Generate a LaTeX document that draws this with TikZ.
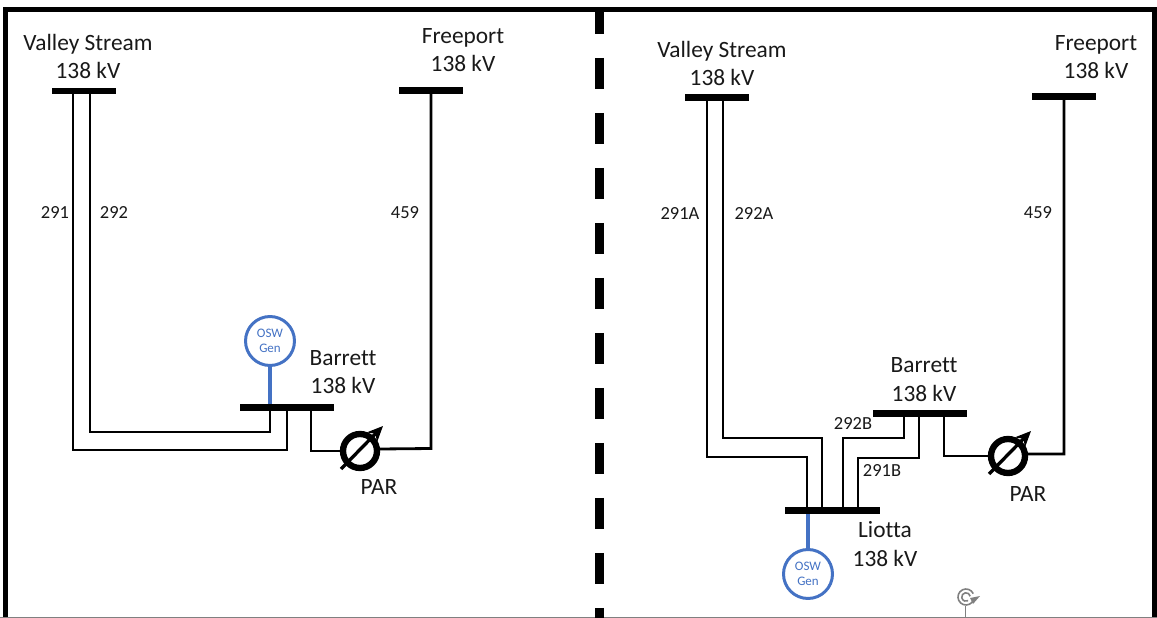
\documentclass[tikz,border=0pt]{standalone}
\usepackage{fontspec}
\setmainfont[Ligatures=NoCommon]{Carlito}
\usetikzlibrary{arrows.meta}
\definecolor{oswblue}{HTML}{4472C4}
\definecolor{handlegray}{HTML}{808080}
\tikzset{
  busbar/.style={fill=black,minimum height=0.13cm,inner sep=0pt,outer sep=0pt},
  wire/.style={line width=1.6pt,draw=black},
  bluewire/.style={line width=2pt,draw=oswblue},
  gen/.style={circle,draw=oswblue,line width=1.7pt,fill=white,minimum size=0.98cm,inner sep=0pt,align=center,text=oswblue,font=\fontsize{7.4}{8.6}\selectfont},
  par/.style={circle,draw=black,line width=3.6pt,fill=white,minimum size=0.68cm,inner sep=0pt},
  pararrow/.style={-{Stealth[length=9pt,width=8pt]},line width=1.9pt,draw=black},
  lbl/.style={align=center,inner sep=0pt,text=black!90,font=\fontsize{13.3}{16.4}\selectfont},
  num/.style={inner sep=0pt,text=black!90,font=\fontsize{10.5}{12}\selectfont},
}
\begin{document}
\begin{tikzpicture}[x=0.02cm,y=-0.02cm]
  \useasboundingbox (0,0) rectangle (1157,618);
  \fill[white] (0,0) rectangle (1157,618);
  % frame and divider
  \draw[black,line width=2.85pt] (5.8,618) -- (5.8,9.2) -- (1154.5,9.2) -- (1154.5,618);
  \draw[handlegray,line width=0.6pt] (0,617.5) -- (1157,617.5);
  \draw[black,line width=4.8pt] (599.7,11) -- (599.7,34);
  \draw[black,line width=4.8pt,dash pattern=on 0.62cm off 0.48cm] (599.7,58) -- (599.7,618);
  % left panel: before
  \node[busbar,minimum width=1.28cm] (vsa) at (84,91) {};
  \node[busbar,minimum width=1.28cm] (fpa) at (431,90.5) {};
  \node[busbar,minimum width=1.9cm] (bara) at (287,407.5) {};
  \node[gen] (gena) at (270,341) {OSW\\Gen};
  \node[par] (para) at (360,451) {};
  \draw[wire] ([xshift=-0.22cm]vsa.center) -- ++(0,359) -| (bara.center);
  \draw[wire] ([xshift=0.12cm]vsa.center) -- ++(0,341) -| ([xshift=-0.34cm]bara.center);
  \draw[wire] ([xshift=0.48cm]bara.center) |- (para.west);
  \draw[wire] (fpa.center) -- ++(0,358) -- ([yshift=0.04cm]para.east);
  \draw[bluewire] (gena.south) -- (gena.south |- bara.north);
  \draw[pararrow] ([shift={(-0.38cm,-0.36cm)}]para.center) -- ([shift={(0.46cm,0.5cm)}]para.center);
  \node[lbl] (vsalbl) at (88,56.5) {Valley Stream\\138 kV};
  \node[lbl] (fpalbl) at (463,50) {Freeport\\138 kV};
  \node[lbl] (baralbl) at (343,372) {Barrett\\138 kV};
  \node[lbl] (paralbl) at (379,487) {PAR};
  \node[num] (n291) at (55,213) {291};
  \node[num] (n292) at (114,213) {292};
  \node[num] (n459a) at (405,213) {459};
  % right panel: after
  \node[busbar,minimum width=1.28cm] (vsb) at (717,97.5) {};
  \node[busbar,minimum width=1.28cm] (fpb) at (1064,96.5) {};
  \node[busbar,minimum width=1.9cm] (barb) at (920,413.5) {};
  \node[busbar,minimum width=1.9cm] (lio) at (832.5,510.5) {};
  \node[gen] (genb) at (808,574) {OSW\\Gen};
  \node[par] (parb) at (1008,456) {};
  \draw[wire] ([xshift=-0.2cm]vsb.center) -- ++(0,359.5) -| ([xshift=-0.51cm]lio.center);
  \draw[wire] ([xshift=0.12cm]vsb.center) -- ++(0,340.5) -| ([xshift=-0.21cm]lio.center);
  \draw[wire] ([xshift=-0.32cm]barb.center) -- ++(0,24.5) -| ([xshift=0.21cm]lio.center);
  \draw[wire] ([xshift=-0.02cm]barb.center) -- ++(0,44.5) -| ([xshift=0.51cm]lio.center);
  \draw[wire] ([xshift=0.48cm]barb.center) |- (parb.west);
  \draw[wire] (fpb.center) -- ++(0,357.5) -- ([yshift=0.04cm]parb.east);
  \draw[bluewire] (genb.north) -- (genb.north |- lio.south);
  \draw[pararrow] ([shift={(-0.38cm,-0.36cm)}]parb.center) -- ([shift={(0.46cm,0.5cm)}]parb.center);
  \node[lbl] (vsblbl) at (722,63.5) {Valley Stream\\138 kV};
  \node[lbl] (fpblbl) at (1096,57) {Freeport\\138 kV};
  \node[lbl] (barblbl) at (924,379.5) {Barrett\\138 kV};
  \node[lbl] (parblbl) at (1028,494) {PAR};
  \node[lbl] (liolbl) at (885,544) {Liotta\\138 kV};
  \node[num] (n291a) at (680,214) {291A};
  \node[num] (n292a) at (754,214) {292A};
  \node[num] (n459b) at (1038,213) {459};
  \node[num] (n292b) at (853,424) {292B};
  \node[num] (n291b) at (882,471) {291B};
  % rotate handle
  \draw[handlegray,line width=0.6pt] (965.5,618) -- (965.5,606);
  \draw[handlegray,line width=0.9pt] ([shift={(25:0.16cm)}]966,597) arc (25:335:0.16cm);
  \draw[handlegray,line width=0.9pt] ([shift={(10:0.085cm)}]966,597) arc (10:300:0.085cm);
  \fill[handlegray] (970,598) -- (980,596) -- (973,604) -- cycle;
\end{tikzpicture}
\end{document}
